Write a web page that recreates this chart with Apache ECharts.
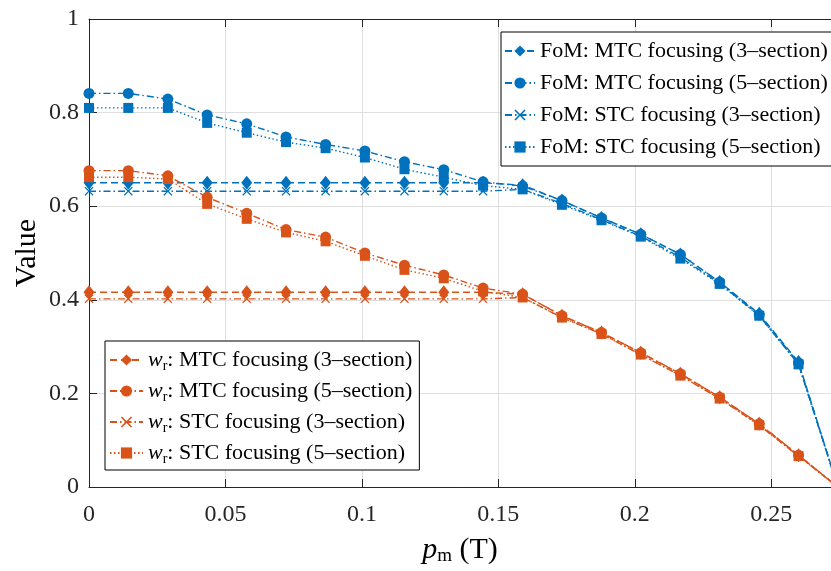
<!DOCTYPE html>
<html><head><meta charset="utf-8">
<script src="https://cdn.jsdelivr.net/npm/echarts@6/dist/echarts.min.js"></script>
<style>html,body{margin:0;padding:0;background:#fff}#c{width:831px;height:571px}</style>
</head><body><div id="c"></div>
<script>
// x values (p_m in T)
const pm = [0, 0.0144, 0.0289, 0.0433, 0.0578, 0.0722, 0.0867, 0.1011, 0.1156, 0.1300,
            0.1444, 0.1589, 0.1733, 0.1878, 0.2022, 0.2167, 0.2311, 0.2456, 0.2600, 0.2744];
// FoM series
const fomMTC3 = [0.650, 0.650, 0.650, 0.650, 0.650, 0.650, 0.650, 0.650, 0.650, 0.650,
                 0.650, 0.645, 0.612, 0.575, 0.540, 0.497, 0.438, 0.370, 0.267, 0];
const fomMTC5 = [0.841, 0.841, 0.829, 0.795, 0.776, 0.748, 0.732, 0.718, 0.695, 0.678,
                 0.652, 0.643, 0.612, 0.575, 0.540, 0.497, 0.438, 0.368, 0.265, 0];
const fomSTC3 = [0.632, 0.632, 0.632, 0.632, 0.632, 0.632, 0.632, 0.632, 0.632, 0.632,
                 0.632, 0.636, 0.606, 0.571, 0.536, 0.491, 0.435, 0.366, 0.262, 0];
const fomSTC5 = [0.810, 0.810, 0.810, 0.778, 0.757, 0.737, 0.724, 0.704, 0.679, 0.662,
                 0.644, 0.636, 0.603, 0.570, 0.535, 0.488, 0.434, 0.366, 0.262, 0];
// w_r series
const wrMTC3 = [0.416, 0.416, 0.416, 0.416, 0.416, 0.416, 0.416, 0.416, 0.416, 0.416,
                0.416, 0.412, 0.366, 0.330, 0.287, 0.242, 0.192, 0.135, 0.068, 0];
const wrMTC5 = [0.676, 0.676, 0.665, 0.619, 0.585, 0.550, 0.534, 0.500, 0.474, 0.453,
                0.425, 0.412, 0.366, 0.330, 0.287, 0.242, 0.192, 0.135, 0.068, 0];
const wrSTC3 = [0.402, 0.402, 0.402, 0.402, 0.402, 0.402, 0.402, 0.402, 0.402, 0.402,
                0.402, 0.405, 0.362, 0.327, 0.283, 0.238, 0.189, 0.132, 0.066, 0];
const wrSTC5 = [0.662, 0.662, 0.658, 0.605, 0.573, 0.544, 0.525, 0.494, 0.464, 0.446,
                0.418, 0.405, 0.362, 0.327, 0.283, 0.238, 0.189, 0.132, 0.066, 0];

const xTicks = [0, 0.05, 0.1, 0.15, 0.2, 0.25];
const yTicks = [0, 0.2, 0.4, 0.6, 0.8, 1];

const fomNames = ['FoM: MTC focusing (3–section)', 'FoM: MTC focusing (5–section)',
                  'FoM: STC focusing (3–section)', 'FoM: STC focusing (5–section)'];
const wrNames = ['wr: MTC focusing (3–section)', 'wr: MTC focusing (5–section)',
                 'wr: STC focusing (3–section)', 'wr: STC focusing (5–section)'];

const BLUE = '#0072BD', ORANGE = '#D95319';
const FONT = '"Liberation Serif", "Times New Roman", serif';
const CROSS = 'path://M0,1L1,0L5,4L9,0L10,1L6,5L10,9L9,10L5,6L1,10L0,9L4,5Z';
const DASH = [7, 4], DASHDOT = [7, 3, 1.5, 3], DOT = [1.5, 2.5];

function mk(name, ys, color, symbol, size, dash) {
  return {
    name, type: 'line', clip: true,
    data: pm.map((x, i) => [x, ys[i]]),
    symbol, symbolSize: size, showAllSymbol: true,
    lineStyle: { color, width: 1.4, type: dash },
    itemStyle: { color, borderWidth: 0 },
    emphasis: { disabled: true },
    animation: false
  };
}

const series = [
  mk(fomNames[0], fomMTC3, BLUE, 'diamond', [11, 14], DASH),
  mk(fomNames[1], fomMTC5, BLUE, 'circle', 11, DASHDOT),
  mk(fomNames[2], fomSTC3, BLUE, CROSS, 9, DASHDOT),
  mk(fomNames[3], fomSTC5, BLUE, 'rect', 10, DOT),
  mk(wrNames[0], wrMTC3, ORANGE, 'diamond', [11, 14], DASH),
  mk(wrNames[1], wrMTC5, ORANGE, 'circle', 11, DASHDOT),
  mk(wrNames[2], wrSTC3, ORANGE, CROSS, 9, DASHDOT),
  mk(wrNames[3], wrSTC5, ORANGE, 'rect', 10, DOT)
];

const legendText = {
  fontFamily: FONT, fontSize: 22, lineHeight: 26, color: '#000',
  rich: {
    i: { fontFamily: FONT, fontSize: 22, lineHeight: 26, fontStyle: 'italic', color: '#000' },
    s: { fontFamily: FONT, fontSize: 14, lineHeight: 14, verticalAlign: 'bottom', color: '#000' },
    t: { fontFamily: FONT, fontSize: 22, lineHeight: 26, color: '#000' }
  }
};

// visible x-range ends at the window's right edge (the original axis continues past it)
const X_MAX = 0.2719;

const chart = echarts.init(document.getElementById('c'), null, { renderer: 'canvas' });
chart.setOption({
  animation: false,
  backgroundColor: '#fff',
  grid: { left: 89, top: 19, right: 0, height: 471, containLabel: false },
  xAxis: [{
    type: 'value', min: 0, max: X_MAX, interval: 0.05, position: 'bottom',
    name: '{p|p}{s|m}{t| (T)}', nameLocation: 'middle', nameGap: 47,
    nameTextStyle: {
      fontFamily: FONT, fontSize: 30, lineHeight: 32, color: '#000',
      rich: {
        p: { fontFamily: FONT, fontSize: 30, lineHeight: 32, fontStyle: 'italic', color: '#000' },
        s: { fontFamily: FONT, fontSize: 19, lineHeight: 19, verticalAlign: 'bottom', color: '#000' },
        t: { fontFamily: FONT, fontSize: 30, lineHeight: 32, color: '#000' }
      }
    },
    axisLine: { show: true, lineStyle: { color: '#262626', width: 1 } },
    axisTick: { show: true, inside: true, length: 8, lineStyle: { color: '#262626' } },
    axisLabel: {
      fontFamily: FONT, fontSize: 24, color: '#262626', margin: 16, showMaxLabel: false,
      formatter: v => (xTicks.some(t => Math.abs(t - v) < 1e-9) ? String(+v.toFixed(2)) : '')
    },
    splitLine: { show: true, lineStyle: { color: '#dfdfdf', width: 1 } }
  }, {
    type: 'value', min: 0, max: X_MAX, interval: 0.05, position: 'top',
    axisLine: { show: true, lineStyle: { color: '#262626', width: 1 } },
    axisTick: { show: true, inside: true, length: 8, lineStyle: { color: '#262626' } },
    axisLabel: { show: false }, splitLine: { show: false }
  }],
  yAxis: {
    type: 'value', min: 0, max: 1, interval: 0.2,
    name: 'Value', nameLocation: 'middle', nameGap: 47, nameRotate: 90,
    nameMoveOverlap: false,
    nameTextStyle: { fontFamily: FONT, fontSize: 30, color: '#000' },
    axisLine: { show: true, lineStyle: { color: '#262626', width: 1 } },
    axisTick: { show: true, inside: true, length: 8, lineStyle: { color: '#262626' } },
    axisLabel: {
      fontFamily: FONT, fontSize: 24, color: '#262626', margin: 10,
      formatter: v => (yTicks.some(t => Math.abs(t - v) < 1e-9) ? String(+v.toFixed(1)) : '')
    },
    splitLine: { show: true, lineStyle: { color: '#dfdfdf', width: 1 } }
  },
  legend: [{
    data: fomNames, orient: 'vertical', left: 501, top: 32,
    padding: [6, 4, 6, 3], itemGap: 6, itemWidth: 30, itemHeight: 14, itemTextGap: 0,
    backgroundColor: '#fff', borderColor: '#000', borderWidth: 1, borderRadius: 0,
    textStyle: legendText, selectedMode: false
  }, {
    data: wrNames, orient: 'vertical', left: 105, top: 341,
    padding: [6, 7, 4, 4], itemGap: 5, itemWidth: 33, itemHeight: 14, itemTextGap: 2,
    backgroundColor: '#fff', borderColor: '#000', borderWidth: 1, borderRadius: 0,
    textStyle: legendText, selectedMode: false,
    formatter: n => '{i|w}{s|r}{t|' + n.slice(2) + '}'
  }],
  series
});
</script>
</body></html>
